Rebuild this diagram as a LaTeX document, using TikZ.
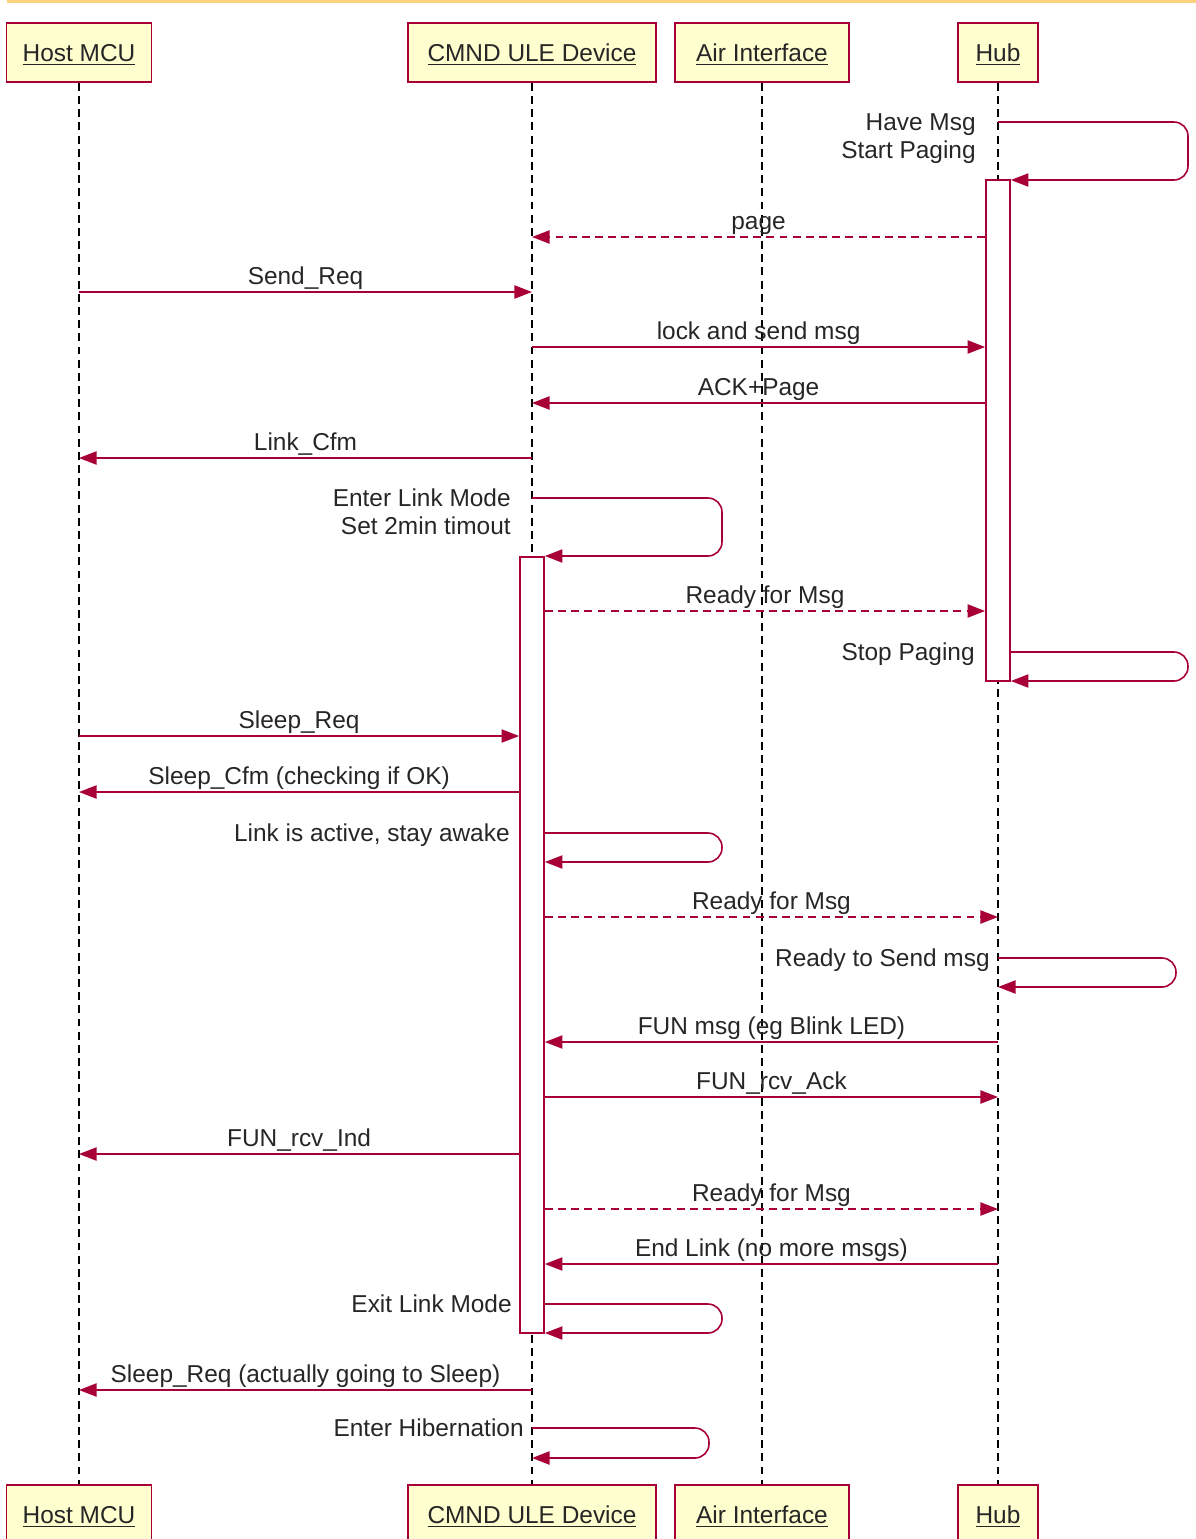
\documentclass[tikz,border=0pt]{standalone}
\usepackage{fontspec}
\setmainfont{Liberation Sans}
\usetikzlibrary{arrows.meta}

\definecolor{umlred}{HTML}{A80036}
\definecolor{umlfill}{HTML}{FEFECE}
\definecolor{topbar}{HTML}{FDD17E}

\begin{document}
\begin{tikzpicture}[x=0.02cm, y=-0.02cm,
    every node/.style={font=\fontsize{13.9pt}{15.9pt}\selectfont, text=black!85},
    actor/.style={draw=umlred, fill=umlfill, line width=1.1pt,
                  minimum height=1.18cm, inner sep=0pt,
                  text height=1.02em, text depth=0pt},
    life/.style={black, line width=0.85pt, dash pattern=on 4.5pt off 3pt},
    activ/.style={draw=umlred, fill=white, line width=1pt,
                  minimum width=0.48cm, inner sep=0pt},
    msg/.style={umlred, line width=0.9pt, -{Triangle[length=10pt, width=7.5pt]}},
    reply/.style={msg, dash pattern=on 4.5pt off 3pt},
    loopmsg/.style={msg, rounded corners=8pt},
    lbl/.style={midway, anchor=base, yshift=4.5pt, inner sep=0pt, text=black!85},
    note/.style={anchor=north east, align=right, inner sep=0pt}
]
\useasboundingbox (0,0) rectangle (1196,1539);
\clip (0,0) rectangle (1196,1539);
\fill[topbar] (7,0) rectangle (1196,3);

\node[actor, minimum width=2.9cm]  (hostT) at (79,52.5)    {\underline{Host MCU}};
\node[actor, minimum width=4.96cm] (cmndT) at (532,52.5)   {\underline{CMND ULE Device}};
\node[actor, minimum width=3.48cm] (airT)  at (762,52.5)   {\underline{Air Interface}};
\node[actor, minimum width=1.6cm]  (hubT)  at (998,52.5)   {\underline{Hub}};
\node[actor, minimum width=2.9cm]  (hostB) at (79,1514.5)  {\underline{Host MCU}};
\node[actor, minimum width=4.96cm] (cmndB) at (532,1514.5) {\underline{CMND ULE Device}};
\node[actor, minimum width=3.48cm] (airB)  at (762,1514.5) {\underline{Air Interface}};
\node[actor, minimum width=1.6cm]  (hubB)  at (998,1514.5) {\underline{Hub}};

\draw[life] (hostT) -- (hostB);
\draw[life] (cmndT) -- (cmndB);
\draw[life] (airT)  -- (airB);
\draw[life] (hubT)  -- (hubB);

\node[activ, minimum height=10.02cm] (hubAct)  at (998,430.5) {};
\node[activ, minimum height=15.52cm] (cmndAct) at (532,945)   {};

\draw[loopmsg] (hubT |- 0,122) -- (1188,122) -- (1188,180) -- (hubAct.east |- 0,180);
\node[note] (havemsg) at (976,113.4) {Have Msg\\Start Paging};
\draw[reply] (hubAct.west |- 0,237) -- node[lbl] {page} (cmndT |- 0,237);
\draw[msg] (hostT |- 0,292) -- node[lbl] {Send\_Req} (cmndT |- 0,292);
\draw[msg] (cmndT |- 0,347) -- node[lbl] {lock and send msg} (hubAct.west |- 0,347);
\draw[msg] (hubAct.west |- 0,403) -- node[lbl] {ACK+Page} (cmndT |- 0,403);
\draw[msg] (cmndT |- 0,458) -- node[lbl] {Link\_Cfm} (hostT |- 0,458);
\draw[loopmsg] (cmndT |- 0,498) -- (722,498) -- (722,556) -- (cmndAct.east |- 0,556);
\node[note] (linkmode) at (511,488.4) {Enter Link Mode\\Set 2min timout};
\draw[reply] (cmndAct.east |- 0,611) -- node[lbl] {Ready for Msg} (hubAct.west |- 0,611);
\draw[loopmsg] (hubAct.east |- 0,652) -- (1188,652) -- (1188,681) -- (hubAct.east |- 0,681);
\node[note] (stoppg) at (975,642.4) {Stop Paging};
\draw[msg] (hostT |- 0,736) -- node[lbl] {Sleep\_Req} (cmndAct.west |- 0,736);
\draw[msg] (cmndAct.west |- 0,792) -- node[lbl] {Sleep\_Cfm (checking if OK)} (hostT |- 0,792);
\draw[loopmsg] (cmndAct.east |- 0,833) -- (722,833) -- (722,862) -- (cmndAct.east |- 0,862);
\node[note] (awake) at (510,823.4) {Link is active, stay awake};
\draw[reply] (cmndAct.east |- 0,917) -- node[lbl] {Ready for Msg} (hubT |- 0,917);
\draw[loopmsg] (hubT |- 0,958) -- (1176,958) -- (1176,987) -- (hubT |- 0,987);
\node[note] (readysend) at (990,948.4) {Ready to Send msg};
\draw[msg] (hubT |- 0,1042) -- node[lbl] {FUN msg (eg Blink LED)} (cmndAct.east |- 0,1042);
\draw[msg] (cmndAct.east |- 0,1097) -- node[lbl] {FUN\_rcv\_Ack} (hubT |- 0,1097);
\draw[msg] (cmndAct.west |- 0,1154) -- node[lbl] {FUN\_rcv\_Ind} (hostT |- 0,1154);
\draw[reply] (cmndAct.east |- 0,1209) -- node[lbl] {Ready for Msg} (hubT |- 0,1209);
\draw[msg] (hubT |- 0,1264) -- node[lbl] {End Link (no more msgs)} (cmndAct.east |- 0,1264);
\draw[loopmsg] (cmndAct.east |- 0,1304) -- (722,1304) -- (722,1333) -- (cmndAct.east |- 0,1333);
\node[note] (exitlink) at (512,1294.4) {Exit Link Mode};
\draw[msg] (cmndT |- 0,1390) -- node[lbl] {Sleep\_Req (actually going to Sleep)} (hostT |- 0,1390);
\draw[loopmsg] (cmndT |- 0,1428) -- (709,1428) -- (709,1458) -- (cmndT |- 0,1458);
\node[note] (hibern) at (524,1418.4) {Enter Hibernation};
\end{tikzpicture}
\end{document}
